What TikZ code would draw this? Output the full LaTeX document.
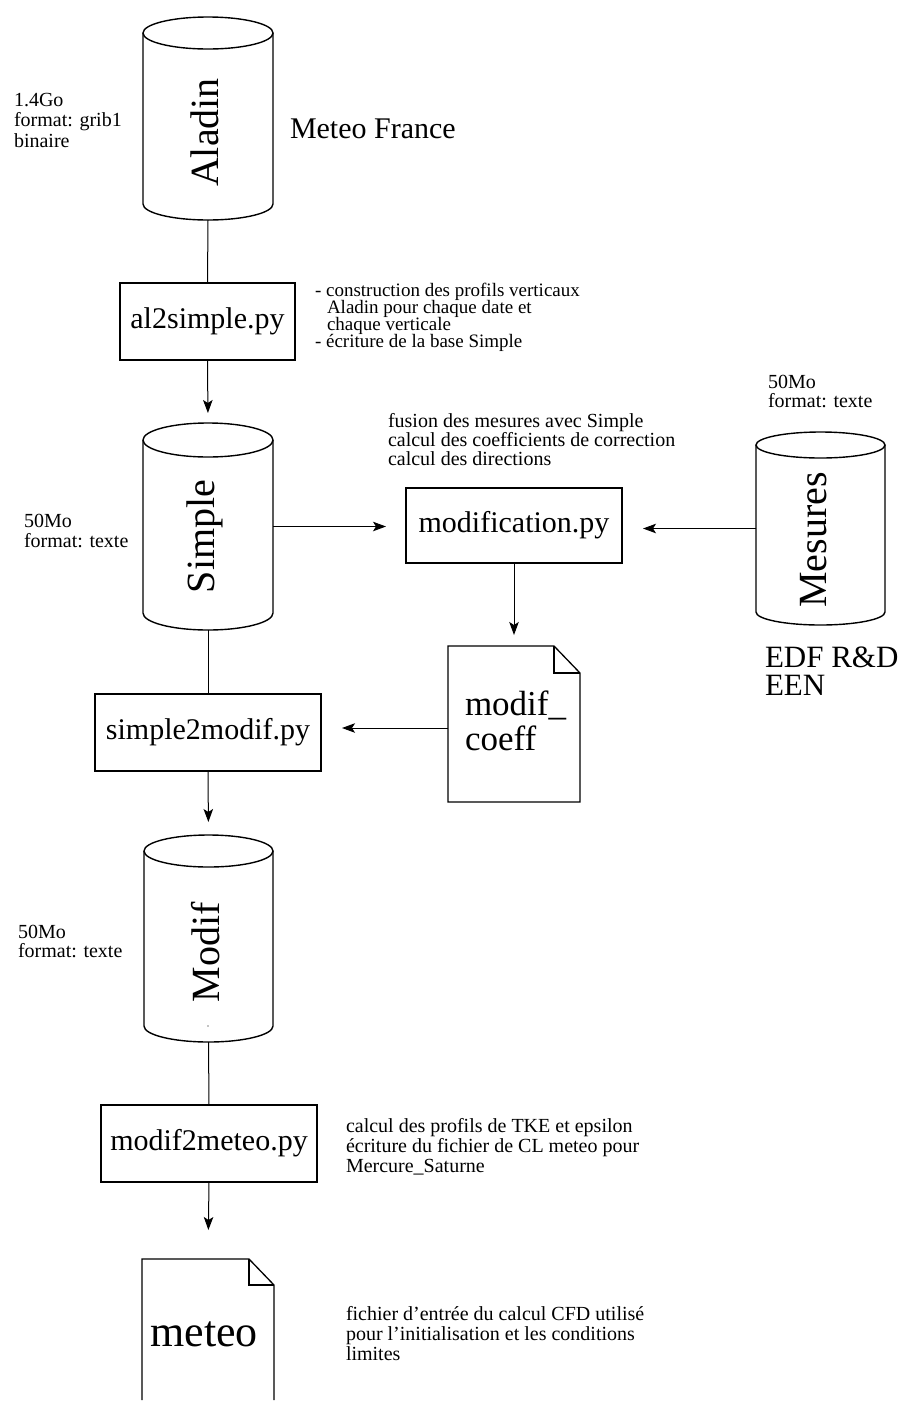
\documentclass[tikz,border=0pt]{standalone}
\usepackage{fontspec}
\setmainfont{Liberation Serif}
\usetikzlibrary{arrows.meta}
\newcommand\cylout[3]{%
  \draw[cylline] ([yshift=-#3]#1.north west) -- ([yshift=#3]#1.south west)
     arc[start angle=180,end angle=360,x radius=#2,y radius=#3] -- ([yshift=-#3]#1.north east);
  \draw[cylline] ([yshift=-#3]#1.north) ellipse[x radius=#2, y radius=#3];}
\newcommand\tightlines{\lineskiplimit=-100pt\relax\lineskip=0pt\relax}
\tikzset{
  every node/.style={inner sep=0pt, outer sep=0pt},
  holder/.style={draw=none, minimum width=#1},
  prog/.style={draw, line width=1.8pt, font=\fontsize{30}{30}\selectfont},
  note/.style={font=\fontsize{20}{#1}\selectfont\tightlines, align=left, anchor=base west},
  note/.default=20,
  dbname/.style={font=\fontsize{40}{40}\selectfont, rotate=90},
  arr/.style={line width=1pt, -{Stealth[length=13pt,width=9.5pt,inset=3pt]}},
  link/.style={line width=1pt},
  cylline/.style={line width=1.4pt},
  docline/.style={line width=1.3pt},
}
\begin{document}
\begin{tikzpicture}[x=1pt,y=-1pt]
\useasboundingbox[fill=white] (0,0) rectangle (898,1409);

% cylinders
\node[holder=130pt, minimum height=203pt] (aladin) at (208,118.5) {};
\node[holder=130pt, minimum height=207pt] (simple) at (208,526.5) {};
\node[holder=129pt, minimum height=193pt] (mesures) at (820.5,528.5) {};
\node[holder=129pt, minimum height=207pt] (modif) at (208.5,938.5) {};
\cylout{aladin}{65pt}{16pt}
\cylout{simple}{65pt}{17pt}
\cylout{mesures}{64.5pt}{13pt}
\cylout{modif}{64.5pt}{16pt}
\node[dbname] (aladin-t) at (205,132.5) {Aladin};
\node[dbname] (simple-t) at (205,536.5) {Simple};
\node[dbname] (mesures-t) at (814,540) {Mesures};
\node[dbname] (modif-t) at (205.5,952) {Modif};
\fill (208,1026) circle (0.7pt);

% programs
\node[prog, minimum width=175pt, minimum height=77pt] (al2simple) at (207.5,321.5) {al2simple.py};
\node[prog, minimum width=216pt, minimum height=75pt] (modification) at (514,525.5) {modification.py};
\node[prog, minimum width=226pt, minimum height=77pt] (simple2modif) at (208,732.5) {simple2modif.py};
\node[prog, minimum width=216pt, minimum height=77pt] (modif2meteo) at (209,1143.5) {modif2meteo.py};

% documents
\node[holder=132pt, minimum height=156pt] (modcoeff) at (514,724) {};
\draw[docline] (modcoeff.north west) -- ([xshift=-26pt]modcoeff.north east)
  -- ([yshift=-27pt]modcoeff.north east) -- (modcoeff.south east) -- (modcoeff.south west) -- cycle;
\draw[docline] ([xshift=-26pt]modcoeff.north east) |- ([yshift=-27pt]modcoeff.north east);
\node[anchor=base west, align=left, font=\fontsize{35}{35}\selectfont\tightlines] (modcoeff-t) at (465,750) {modif\_\\coeff};

\node[holder=132pt, minimum height=141pt] (meteodoc) at (208,1329.5) {};
\draw[docline] (meteodoc.south west) -- (meteodoc.north west) -- ([xshift=-25pt]meteodoc.north east)
  -- ([yshift=-26pt]meteodoc.north east) -- (meteodoc.south east);
\draw[docline] ([xshift=-25pt]meteodoc.north east) |- ([yshift=-26pt]meteodoc.north east);
\node[anchor=base, font=\fontsize{44}{44}\selectfont] (meteo-t) at (204,1346) {meteo};

% texts (anchored at the baseline of the last line)
\node[note=20.5] (aladin-info) at (14,147) {1.4Go\\format: grib1\\binaire};
\node[anchor=base west, font=\fontsize{30}{30}\selectfont] (meteofrance) at (290,138) {Meteo France};
\node[note=17, font=\fontsize{19}{17}\selectfont\tightlines] (al2simple-info) at (315,347) {- construction des profils verticaux\\\hspace*{12pt}Aladin pour chaque date et\\\hspace*{12pt}chaque verticale\\- écriture de la base Simple};
\node[note=19] (modification-info) at (388,465) {fusion des mesures avec Simple\\calcul des coefficients de correction\\calcul des directions};
\node[note=19.5] (mesures-info) at (768,407.5) {50Mo\\format: texte};
\node[note=20] (simple-info) at (24,547) {50Mo\\format: texte};
\node[anchor=base west, align=left, font=\fontsize{31}{28}\selectfont\tightlines] (mesures-src) at (765,695) {EDF R\&D\\EEN};
\node[note=19.5] (modif-info) at (18,957.5) {50Mo\\format: texte};
\node[note=20] (modif2meteo-info) at (346,1172) {calcul des profils de TKE et epsilon\\écriture du fichier de CL meteo pour\\Mercure\_Saturne};
\node[note=20] (meteo-info) at (346,1360) {fichier d'entrée du calcul CFD utilisé\\pour l'initialisation et les conditions\\limites};

% connectors
\draw[link] (aladin.south) -- (al2simple.north);
\draw[arr, shorten >=10pt] (al2simple.south) -- (simple.north);
\draw[arr, shorten >=20pt] (simple.east) -- (modification.west |- simple.east);
\draw[arr, shorten >=21pt] (mesures.west) -- (modification.east |- mesures.west);
\draw[arr, shorten >=11pt] (modification.south) -- (modcoeff.north);
\draw[link] (simple.south) -- (simple2modif.north);
\draw[arr, shorten >=21pt] ([yshift=-4pt]modcoeff.west) -- ([yshift=4.5pt]simple2modif.east);
\draw[arr, shorten >=13pt] (simple2modif.south) -- (modif.north);
\draw[link] (modif.south) -- (modif2meteo.north);
\draw[arr, shorten >=29pt] (modif2meteo.south) -- (meteodoc.north);
\end{tikzpicture}
\end{document}
